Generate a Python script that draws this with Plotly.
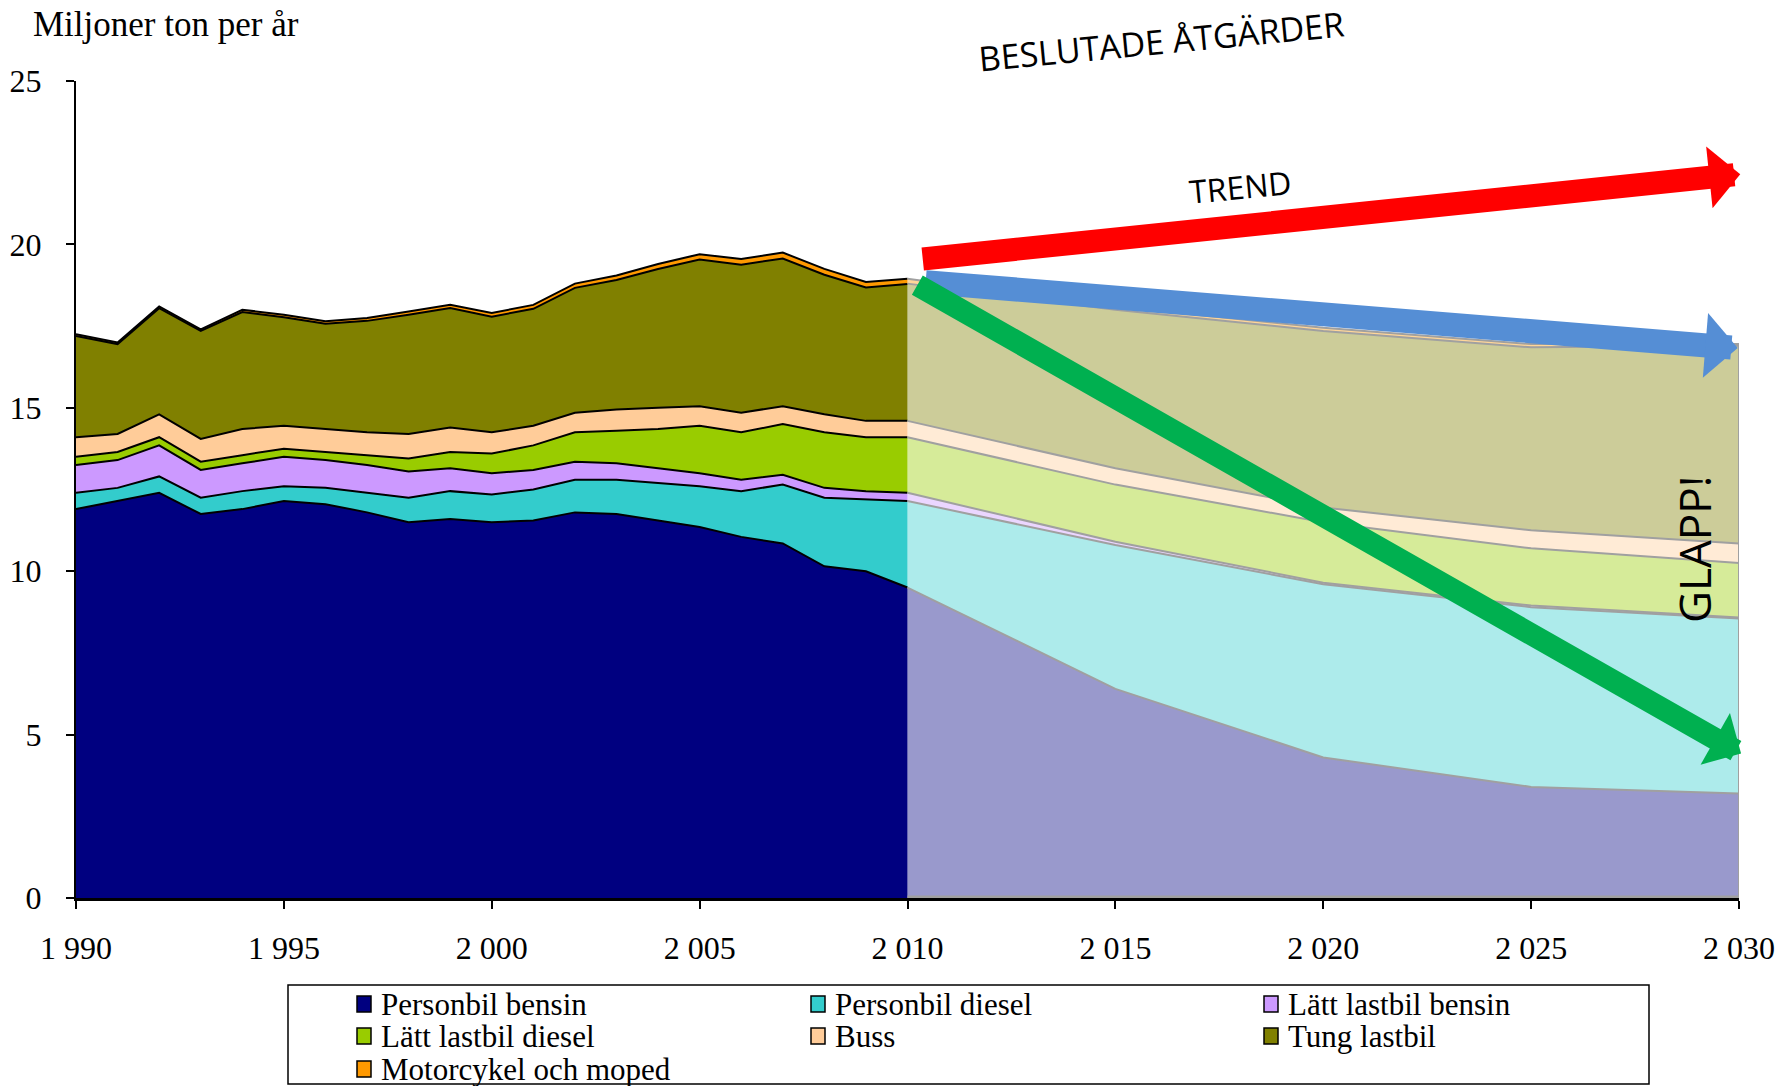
import plotly.graph_objects as go

# ---------------- data ----------------
years_hist = list(range(1990, 2011))
years_proj = [2010, 2015, 2020, 2025, 2030]

series_names = ["Personbil bensin", "Personbil diesel", "Lätt lastbil bensin",
                "Lätt lastbil diesel", "Buss", "Tung lastbil", "Motorcykel och moped"]
series_colors = ["#000080", "#33CCCC", "#CC99FF", "#99CC00", "#FFCC99", "#808000", "#FF9900"]

hist_personbil_bensin = [11.9, 12.15, 12.4, 11.75, 11.9, 12.15, 12.05, 11.8, 11.5, 11.6, 11.5,
                         11.55, 11.8, 11.75, 11.55, 11.35, 11.05, 10.85, 10.15, 10.0, 9.5]
hist_personbil_diesel = [0.5, 0.4, 0.5, 0.5, 0.55, 0.45, 0.5, 0.6, 0.75, 0.85, 0.85,
                         0.95, 1.0, 1.05, 1.15, 1.25, 1.4, 1.8, 2.1, 2.2, 2.65]
hist_latt_bensin = [0.85, 0.85, 0.95, 0.85, 0.85, 0.9, 0.85, 0.85, 0.8, 0.7, 0.65,
                    0.6, 0.55, 0.5, 0.45, 0.4, 0.35, 0.3, 0.3, 0.25, 0.25]
hist_latt_diesel = [0.25, 0.25, 0.25, 0.25, 0.25, 0.25, 0.25, 0.3, 0.4, 0.5, 0.6,
                    0.75, 0.9, 1.0, 1.2, 1.45, 1.45, 1.55, 1.7, 1.65, 1.7]
hist_buss = [0.6, 0.55, 0.7, 0.7, 0.8, 0.7, 0.7, 0.7, 0.75, 0.75, 0.65,
             0.6, 0.6, 0.65, 0.65, 0.6, 0.6, 0.55, 0.55, 0.5, 0.5]
hist_tung = [3.1, 2.75, 3.25, 3.3, 3.58, 3.32, 3.22, 3.41, 3.65, 3.65, 3.54,
             3.58, 3.82, 3.96, 4.25, 4.49, 4.53, 4.52, 4.27, 4.08, 4.19]
hist_moto = [0.05, 0.05, 0.05, 0.05, 0.07, 0.08, 0.08, 0.09, 0.1, 0.1, 0.11,
             0.12, 0.13, 0.14, 0.15, 0.16, 0.17, 0.18, 0.18, 0.17, 0.16]

proj_personbil_bensin = [9.5, 6.4, 4.3, 3.4, 3.2]
proj_personbil_diesel = [2.65, 4.4, 5.3, 5.5, 5.35]
proj_latt_bensin = [0.25, 0.1, 0.05, 0.05, 0.03]
proj_latt_diesel = [1.7, 1.75, 1.85, 1.75, 1.67]
proj_buss = [0.5, 0.5, 0.45, 0.55, 0.6]
proj_tung = [4.2, 4.85, 5.4, 5.6, 6.05]
proj_moto = [0.15, 0.1, 0.1, 0.1, 0.05]

y_tick_vals = [0, 5, 10, 15, 20, 25]
x_tick_vals = [1990, 1995, 2000, 2005, 2010, 2015, 2020, 2025, 2030]
x_tick_text = ["1 990", "1 995", "2 000", "2 005", "2 010", "2 015", "2 020", "2 025", "2 030"]

# arrows (tail -> head) in data units: TREND, beslutade åtgärder, mål
arrow_colors = ["#FF0000", "#558ED5", "#00B050"]
arrow_tail_x = [2010.33, 2010.4, 2010.2]
arrow_tail_y = [19.55, 18.85, 18.78]
arrow_head_x = [2030.03, 2029.97, 2030.05]
arrow_head_y = [22.15, 16.83, 4.42]
arrow_widths = [23, 24, 22]

hist_series = [hist_personbil_bensin, hist_personbil_diesel, hist_latt_bensin,
               hist_latt_diesel, hist_buss, hist_tung, hist_moto]
proj_series = [proj_personbil_bensin, proj_personbil_diesel, proj_latt_bensin,
               proj_latt_diesel, proj_buss, proj_tung, proj_moto]


def faded(hexcol, a=0.4):
    h = hexcol.lstrip("#")
    r, g, b = int(h[0:2], 16), int(h[2:4], 16), int(h[4:6], 16)
    return f"rgba({r},{g},{b},{a})"


SERIF = "Liberation Serif"
SANS = "Open Sans"

# plot-area geometry (pixels) used for placing layout items
W, H = 1783, 1086
ML, MR, MT, MB = 76, 44, 81, 188
PW, PH = W - ML - MR, H - MT - MB


def px_x(px):
    return (px - ML) / PW


def px_y(py):
    return (H - MB - py) / PH


fig = go.Figure()

for name, vals, col in zip(series_names, hist_series, series_colors):
    fig.add_trace(go.Scatter(
        x=years_hist, y=vals, name=name, mode="lines", stackgroup="hist",
        line=dict(color="black", width=2), fillcolor=col, showlegend=False,
        hoverinfo="x+y+name"))

for name, vals, col in zip(series_names, proj_series, series_colors):
    fig.add_trace(go.Scatter(
        x=years_proj, y=vals, name=name + " (prognos)", mode="lines", stackgroup="proj",
        line=dict(color="#A0A0A0", width=2), fillcolor=faded(col), showlegend=False,
        hoverinfo="x+y+name"))

proj_total_end = sum(s[-1] for s in proj_series)

shapes = [
    dict(type="line", xref="x", yref="y", x0=years_proj[0], x1=years_proj[-1], y0=0, y1=0,
         line=dict(color="#A0A0A0", width=5), layer="above"),
    dict(type="line", xref="x", yref="y", x0=years_proj[-1], x1=years_proj[-1], y0=0,
         y1=proj_total_end, line=dict(color="#A0A0A0", width=2), layer="above"),
]

annotations = []
for col, tx, ty, hx, hy, w in zip(arrow_colors, arrow_tail_x, arrow_tail_y,
                                  arrow_head_x, arrow_head_y, arrow_widths):
    annotations.append(dict(
        x=hx, y=hy, xref="x", yref="y", ax=tx, ay=ty, axref="x", ayref="y",
        text="", showarrow=True, arrowhead=1, arrowsize=0.45, arrowwidth=w,
        arrowcolor=col, standoff=0))

annotations += [
    dict(text="Miljoner ton per år", xref="paper", yref="paper", x=px_x(31), y=px_y(25),
         xanchor="left", yanchor="middle", showarrow=False,
         font=dict(family=SERIF, size=35, color="black")),
    dict(text="BESLUTADE ÅTGÄRDER", xref="paper", yref="paper", x=px_x(1161), y=px_y(41),
         xanchor="center", yanchor="middle", showarrow=False, textangle=-5.5,
         font=dict(family=SANS, size=34, color="black")),
    dict(text="TREND", xref="paper", yref="paper", x=px_x(1240), y=px_y(186),
         xanchor="center", yanchor="middle", showarrow=False, textangle=-5.5,
         font=dict(family=SANS, size=32, color="black")),
    dict(text="GLAPP!", xref="paper", yref="paper", x=px_x(1694), y=px_y(550),
         xanchor="center", yanchor="middle", showarrow=False, textangle=-90,
         font=dict(family=SANS, size=44, color="black")),
]

# ---- legend box (three columns, as in the original) ----
leg_box = (288, 1649, 985, 1084)          # left, right, top, bottom (px)
leg_text_x = [379, 833, 1286]             # column text starts (px)
leg_row_y = [1004, 1036, 1069]            # row centres (px)
sw_w, sw_h, sw_gap = 14, 16, 8            # swatch size / gap to text (px)

shapes.append(dict(type="rect", xref="paper", yref="paper",
                   x0=px_x(leg_box[0]), x1=px_x(leg_box[1]),
                   y0=px_y(leg_box[3]), y1=px_y(leg_box[2]),
                   line=dict(color="black", width=1.5), fillcolor="white", layer="above"))
for i, (name, col) in enumerate(zip(series_names, series_colors)):
    r, c = divmod(i, 3)
    tx, ty = leg_text_x[c], leg_row_y[r]
    shapes.append(dict(type="rect", xref="paper", yref="paper",
                       x0=px_x(tx - sw_gap - sw_w), x1=px_x(tx - sw_gap),
                       y0=px_y(ty + sw_h / 2), y1=px_y(ty - sw_h / 2),
                       line=dict(color="black", width=1.5), fillcolor=col, layer="above"))
    annotations.append(dict(text=name, xref="paper", yref="paper", x=px_x(tx), y=px_y(ty),
                            xanchor="left", yanchor="middle", showarrow=False,
                            font=dict(family=SERIF, size=31, color="black")))

fig.update_layout(
    width=W, height=H,
    margin=dict(l=ML, r=MR, t=MT, b=MB, autoexpand=False),
    paper_bgcolor="white", plot_bgcolor="white",
    showlegend=False,
    xaxis=dict(
        range=[1990, 2030], tickvals=x_tick_vals, ticktext=x_tick_text,
        showline=True, linecolor="black", linewidth=3, ticks="outside", ticklen=8,
        tickwidth=1.5, tickcolor="black", showgrid=False, zeroline=False,
        tickfont=dict(family=SERIF, size=32, color="black"), ticklabelstandoff=12,
        automargin=False),
    yaxis=dict(
        range=[0, 25], tickvals=y_tick_vals,
        showline=True, linecolor="black", linewidth=2, ticks="outside", ticklen=8,
        tickwidth=1.5, tickcolor="black", showgrid=False, zeroline=False,
        tickfont=dict(family=SERIF, size=32, color="black"), ticklabelstandoff=18,
        automargin=False),
    shapes=shapes,
    annotations=annotations,
)

fig.write_html("out.html", config={"displayModeBar": False},
               post_script="document.body.style.margin='0';")
